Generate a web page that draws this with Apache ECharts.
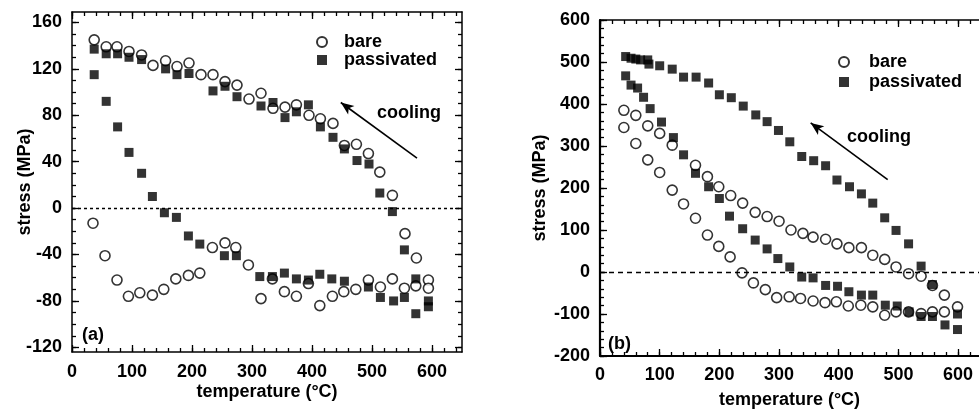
<!DOCTYPE html>
<html>
<head>
<meta charset="utf-8">
<script src="https://cdn.jsdelivr.net/npm/echarts@6/dist/echarts.min.js"></script>
<style>
  html, body { margin: 0; padding: 0; background: #fff; }
  #chart { width: 979px; height: 414px; }
</style>
</head>
<body>
<div id="chart"></div>
<script>
// panel (a): stress vs temperature
const aBareT = [35, 55, 75, 94, 113, 134, 153, 173, 194, 213, 234, 255, 273, 294, 315, 334, 354, 374, 394, 413, 434, 453, 473, 494, 514, 534, 554, 573, 594,
                594, 574, 555, 534, 513, 494, 474, 454, 435, 414, 395, 374, 355, 335, 315, 295, 275, 255, 235, 215, 195, 175, 156, 135, 116, 95, 75, 57, 37];
const aBareS = [-13, -41, -62, -76, -73, -75, -70, -61, -58, -56, -34, -30, -34, -49, -78, -61, -72, -76, -65, -84, -76, -72, -70, -62, -68, -61, -69, -67, -62,
                -69, -43, -22, 11, 31, 47, 55, 54, 73, 77, 80, 89, 87, 86, 99, 94, 106, 109, 115, 115, 125, 122, 127, 123, 132, 135, 139, 139, 145];
const aPassT = [37, 57, 76, 95, 116, 134, 154, 174, 194, 213, 254, 274, 313, 334, 354, 374, 394, 413, 433, 454, 494, 514, 536, 554, 573, 594,
                594, 573, 554, 534, 513, 495, 475, 454, 435, 414, 394, 374, 355, 335, 315, 275, 255, 235, 195, 175, 156, 116, 95, 76, 57, 37];
const aPassS = [115, 92, 70, 48, 30, 10, -4, -8, -24, -31, -41, -41, -59, -59, -56, -61, -62, -57, -61, -63, -68, -77, -80, -77, -91, -85,
                -80, -61, -36, -3, 13, 38, 41, 51, 61, 70, 89, 83, 78, 91, 88, 96, 105, 101, 116, 115, 120, 128, 130, 133, 133, 137];

// panel (b)
const bBareT = [40, 60, 80, 100, 121, 160, 180, 199, 219, 239, 260, 280, 300, 320, 340, 357, 378, 397, 417, 438, 457, 477, 496, 517, 538, 557, 577, 599,
                40, 60, 80, 100, 121, 140, 160, 180, 199, 218, 238, 257, 277, 296, 317, 336, 357, 377, 396, 416, 437, 457, 477, 496, 517, 538, 557, 577];
const bBareS = [385, 373, 348, 330, 302, 254, 227, 203, 182, 164, 142, 132, 121, 100, 92, 83, 78, 67, 58, 58, 40, 30, 12, -4, -10, -32, -55, -83,
                344, 306, 267, 237, 195, 162, 128, 88, 61, 36, -2, -26, -42, -61, -59, -63, -69, -73, -71, -81, -79, -83, -103, -95, -95, -99, -95, -95];
const bPassT = [43, 52, 60, 68, 80, 82, 100, 121, 140, 161, 182, 200, 220, 240, 261, 280, 299, 318, 338, 358, 378, 397, 418, 438, 457, 477, 496, 517, 538, 557, 578, 599,
                43, 52, 63, 73, 84, 103, 123, 140, 160, 182, 200, 217, 239, 260, 280, 298, 318, 338, 357, 378, 398, 417, 438, 457, 478, 498, 518, 538, 557, 599];
const bPassS = [513, 509, 507, 505, 505, 495, 491, 483, 464, 464, 450, 422, 415, 395, 374, 358, 337, 310, 275, 265, 253, 219, 203, 186, 164, 129, 99, 67, 14, -30, -126, -137,
                467, 445, 438, 416, 389, 357, 320, 279, 235, 203, 175, 133, 103, 76, 55, 32, 12, -12, -14, -32, -34, -47, -55, -55, -79, -81, -95, -106, -106, -100];

// tick labels
const aXLabels = [0, 100, 200, 300, 400, 500, 600];
const aYLabels = [-120, -80, -40, 0, 40, 80, 120, 160];
const bXLabels = [0, 100, 200, 300, 400, 500, 600];
const bYLabels = [-200, -100, 0, 100, 200, 300, 400, 500, 600];

const FONT = 'Liberation Sans';
const TEXTFONT = 'bold 18px "Liberation Sans"';
const pair = (xs, ys) => xs.map((x, i) => [x, ys[i]]);
const range = (a, b, s) => { let r = []; for (let v = a; v <= b; v += s) r.push(v); return r; };

const axis = (gridIndex, position, min, max, ticks, len, lineW, extra) => Object.assign({
    type: 'value', gridIndex: gridIndex, position: position, min: min, max: max,
    axisLine: { show: lineW > 0, onZero: false, lineStyle: { color: '#000', width: lineW } },
    axisTick: { show: true, inside: true, length: len, customValues: ticks, lineStyle: { color: '#000', width: 1.3 } },
    axisLabel: { show: false },
    splitLine: { show: false }
}, extra || {});

const labelStyle = (labels, margin) => ({
    show: true, customValues: labels, color: '#000', fontFamily: FONT, fontWeight: 'bold', fontSize: 18, margin: margin
});
const nameStyle = { color: '#000', fontFamily: FONT, fontWeight: 'bold', fontSize: 18 };

const xAxes = [
    // (a)
    axis(0, 'bottom', 0, 650, aXLabels, 7, 1.5, {
        axisLabel: labelStyle(aXLabels, 11),
        name: 'temperature (°C)', nameLocation: 'middle', nameGap: 31, nameMoveOverlap: false, nameTextStyle: nameStyle
    }),
    axis(0, 'bottom', 0, 650, range(0, 640, 20), 4, 0),
    axis(0, 'top', 0, 650, aXLabels, 7, 1.5),
    axis(0, 'top', 0, 650, range(0, 640, 20), 4, 0),
    // (b)
    axis(1, 'bottom', 0, 635, bXLabels, 7, 2, {
        axisLabel: labelStyle(bXLabels, 10),
        name: 'temperature (°C)', nameLocation: 'middle', nameGap: 35, nameMoveOverlap: false, nameTextStyle: nameStyle
    }),
    axis(1, 'bottom', 0, 635, range(0, 620, 20), 4, 0),
    axis(1, 'top', 0, 635, bXLabels, 7, 1.5),
    axis(1, 'top', 0, 635, range(0, 620, 20), 4, 0)
];

const yAxes = [
    // (a)
    axis(0, 'left', -124, 169, aYLabels, 7, 1.5, {
        axisLabel: labelStyle(aYLabels, 10),
        name: 'stress (MPa)', nameLocation: 'middle', nameGap: 38, nameMoveOverlap: false, nameTextStyle: nameStyle
    }),
    axis(0, 'left', -124, 169, range(-120, 160, 10), 4, 0),
    axis(0, 'right', -124, 169, aYLabels, 7, 1.5),
    axis(0, 'right', -124, 169, range(-120, 160, 10), 4, 0),
    // (b)
    axis(1, 'left', -200, 600, bYLabels, 7, 2.2, {
        axisLabel: labelStyle(bYLabels, 10),
        name: 'stress (MPa)', nameLocation: 'middle', nameGap: 51, nameMoveOverlap: false, nameTextStyle: nameStyle
    }),
    axis(1, 'left', -200, 600, range(-200, 600, 20), 4, 0)
];

const bareStyle = { color: '#fff', borderColor: '#000', borderWidth: 1.6 };
const passStyle = { color: '#000' };

const marks = (arrowFrom, arrowTo, dash) => ({
    silent: true, animation: false, symbol: 'none',
    label: { show: false },
    emphasis: { disabled: true },
    data: [
        { yAxis: 0, lineStyle: { type: dash, color: '#000', width: 1.3 } },
        [
            { coord: arrowFrom, symbol: 'none', lineStyle: { type: 'solid', color: '#000', width: 1.6 } },
            { coord: arrowTo, symbol: 'arrow', symbolSize: [8, 13] }
        ]
    ]
});

const scatter = (name, xi, data, extra) => Object.assign({
    name: name, type: 'scatter', xAxisIndex: xi, yAxisIndex: xi, data: data,
    symbol: name === 'bare' ? 'circle' : 'rect',
    symbolSize: name === 'bare' ? 10 : 9,
    itemStyle: name === 'bare' ? bareStyle : passStyle,
    emphasis: { disabled: true }
}, extra || {});

const legend = (left, top, gap, pad) => ({
    left: left, top: top, orient: 'vertical', itemGap: gap, padding: 0,
    itemWidth: 10, itemHeight: 10, selectedMode: false,
    data: ['bare', 'passivated'],
    textStyle: { color: '#000', fontFamily: FONT, fontWeight: 'bold', fontSize: 18, lineHeight: 18, padding: [0, 0, 0, pad] }
});

const chart = echarts.init(document.getElementById('chart'));
chart.setOption({
    animation: false,
    backgroundColor: '#fff',
    grid: [
        { left: 72, top: 12, width: 390, height: 340 },
        { left: 600, top: 20, right: 0, height: 338 }
    ],
    xAxis: xAxes,
    yAxis: yAxes,
    legend: [legend(316, 33, 0, 12), legend(838, 53, 2, 15)],
    series: [
        scatter('bare', 0, pair(aBareT, aBareS)),
        scatter('passivated', 0, pair(aPassT, aPassS), { markLine: marks([575, 43], [448, 91], [3, 3]) }),
        scatter('bare', 4, pair(bBareT, bBareS)),
        scatter('passivated', 4, pair(bPassT, bPassS), { markLine: marks([482, 220], [353, 355], [5, 4]) })
    ],
    graphic: [
        { type: 'text', left: 377, top: 104, style: { text: 'cooling', fill: '#000', font: TEXTFONT } },
        { type: 'text', left: 847, top: 128, style: { text: 'cooling', fill: '#000', font: TEXTFONT } },
        { type: 'text', left: 82, top: 326, style: { text: '(a)', fill: '#000', font: TEXTFONT } },
        { type: 'text', left: 608, top: 335, style: { text: '(b)', fill: '#000', font: TEXTFONT } }
    ]
});
</script>
</body>
</html>
